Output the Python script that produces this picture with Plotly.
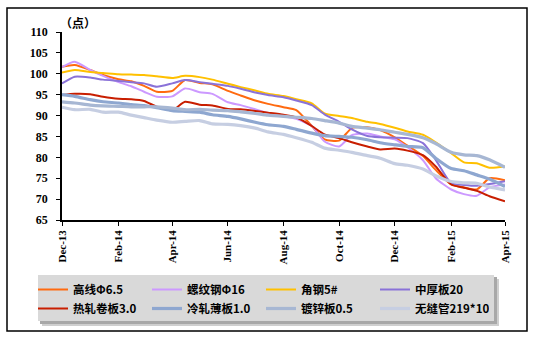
import plotly.graph_objects as go

dates = ["2013-12-01", "2013-12-15", "2014-01-01", "2014-01-15", "2014-02-01", "2014-02-15",
         "2014-03-01", "2014-03-15", "2014-04-01", "2014-04-15", "2014-05-01", "2014-05-15",
         "2014-06-01", "2014-06-15", "2014-07-01", "2014-07-15", "2014-08-01", "2014-08-15",
         "2014-09-01", "2014-09-15", "2014-10-01", "2014-10-15", "2014-11-01", "2014-11-15",
         "2014-12-01", "2014-12-15", "2015-01-01", "2015-01-15", "2015-02-01", "2015-02-15",
         "2015-03-01", "2015-03-15", "2015-04-01"]

gaoxian = [101.7, 102.1, 100.9, 99.7, 98.7, 98.2, 97.1, 95.7, 95.9, 98.5, 97.8, 97.5,
           95.9, 94.8, 93.6, 92.8, 92.0, 91.3, 87.5, 84.3, 84.0, 87.0, 87.2, 86.5,
           84.8, 82.8, 80.3, 77.0, 73.5, 72.8, 72.3, 75.0, 74.5]
luowen = [101.6, 102.9, 100.9, 99.5, 98.0, 97.0, 95.7, 94.5, 94.6, 96.5, 95.6, 95.2,
          93.2, 92.5, 91.5, 90.6, 89.8, 89.2, 87.5, 83.8, 82.6, 85.3, 85.7, 85.0,
          84.3, 82.4, 79.3, 75.0, 72.3, 71.2, 70.8, 72.8, 73.5]
jiaogang = [100.3, 100.9, 100.4, 100.2, 99.9, 99.8, 99.7, 99.4, 99.0, 99.5, 99.2, 98.6,
            97.6, 96.8, 96.0, 95.2, 94.7, 93.9, 92.9, 90.5, 89.9, 89.4, 88.5, 88.0,
            87.1, 86.2, 85.4, 83.6, 81.0, 78.8, 78.6, 77.5, 77.8]
zhonghou = [97.7, 99.3, 99.1, 98.6, 98.3, 98.0, 97.7, 96.9, 97.7, 98.5, 98.0, 97.6,
            97.1, 96.4, 95.5, 94.9, 94.4, 93.6, 92.5, 90.3, 88.5, 86.7, 85.1, 84.8,
            84.7, 84.6, 83.4, 79.4, 73.8, 73.4, 73.2, 73.6, 74.3]
rezha = [94.9, 95.2, 95.1, 94.5, 94.0, 93.9, 93.5, 92.1, 91.3, 93.3, 92.6, 92.4,
         91.6, 91.5, 91.1, 90.7, 90.2, 89.6, 87.5, 85.5, 84.6, 83.6, 82.6, 81.9,
         82.1, 81.6, 80.5, 77.8, 73.5, 72.7, 72.0, 70.7, 69.5]
lengzha = [95.0, 94.6, 93.8, 93.3, 93.0, 92.6, 92.4, 91.9, 91.2, 91.0, 90.8, 90.2,
           89.8, 89.2, 88.4, 87.8, 87.4, 86.7, 85.8, 85.2, 85.0, 84.8, 84.2, 83.5,
           83.0, 82.6, 82.3, 79.8, 77.3, 76.8, 75.8, 74.8, 73.0]
duxin = [93.3, 93.0, 92.5, 92.3, 92.2, 92.1, 92.1, 92.1, 91.8, 91.4, 91.5, 91.3,
         91.2, 90.9, 90.5, 90.1, 89.8, 89.6, 89.3, 88.8, 88.2, 87.4, 87.0, 86.6,
         86.0, 85.5, 84.7, 83.3, 81.2, 80.6, 80.4, 79.4, 77.6]
wufeng = [92.0, 91.4, 91.5, 90.8, 90.8, 90.1, 89.5, 88.9, 88.4, 88.6, 88.8, 88.0,
          87.9, 87.6, 87.0, 86.1, 85.5, 84.7, 83.6, 82.2, 81.7, 81.2, 80.4, 79.8,
          78.5, 78.1, 77.2, 75.6, 74.2, 73.9, 73.8, 72.9, 72.2]

names = ["高线Φ6.5", "螺纹钢Φ16", "角钢5#", "中厚板20",
         "热轧卷板3.0", "冷轧薄板1.0", "镀锌板0.5", "无缝管219*10"]
series = [gaoxian, luowen, jiaogang, zhonghou, rezha, lengzha, duxin, wufeng]
colors = ["#FF6A10", "#CC99FF", "#FFC000", "#8A72D8",
          "#C81E00", "#8EA7D0", "#A7B7D3", "#C6CEE2"]
widths = [2, 2, 2, 2, 2, 3.2, 3.2, 3.2]

tick_vals = ["2013-12-01", "2014-02-01", "2014-04-01", "2014-06-01", "2014-08-01",
             "2014-10-01", "2014-12-01", "2015-02-01", "2015-04-01"]
tick_text = ["Dec-13", "Feb-14", "Apr-14", "Jun-14", "Aug-14", "Oct-14", "Dec-14", "Feb-15", "Apr-15"]

fig = go.Figure()
for n, s, c, w in zip(names, series, colors, widths):
    fig.add_trace(go.Scatter(x=dates, y=s, name=n, mode="lines",
                             line=dict(color=c, width=w, shape="spline", smoothing=0.6)))

W, H = 443, 188
L, T = 62, 32
def px(x):
    return (x - L) / W
def py(y):
    return (T + H - y) / H

fig.update_layout(
    width=536, height=339,
    margin=dict(l=L, r=536 - L - W, t=T, b=339 - T - H),
    paper_bgcolor="white", plot_bgcolor="white",
    font=dict(family="Liberation Serif", size=11, color="black"),
    showlegend=True,
    legend=dict(orientation="h", x=px(33), y=py(275), xanchor="left", yanchor="top",
                bgcolor="rgba(0,0,0,0)", borderwidth=0,
                entrywidth=69, entrywidthmode="pixels",
                font=dict(family="Noto Sans CJK SC", size=11.5, color="black", weight="bold"),
                itemwidth=30, tracegroupgap=0),
    xaxis=dict(type="date", range=["2013-12-01", "2015-04-01"],
               tickmode="array", tickvals=tick_vals, ticktext=tick_text,
               tickangle=-90, ticks="outside", ticklen=4, tickcolor="black",
               showline=True, linecolor="black", linewidth=1.5, showgrid=False,
               zeroline=False,
               tickfont=dict(family="Liberation Serif", size=11, weight="bold")),
    yaxis=dict(range=[65, 110], dtick=5, tick0=65, ticks="outside", ticklen=4,
               tickcolor="black", showline=True, linecolor="black", linewidth=1.5,
               showgrid=False, zeroline=False, ticklabelstandoff=6,
               tickfont=dict(family="Liberation Serif", size=12, weight="bold")),
    shapes=[
        dict(type="rect", xref="paper", yref="paper",
             x0=px(7), x1=px(527), y0=py(331), y1=py(8),
             line=dict(color="black", width=1.5), fillcolor="rgba(0,0,0,0)", layer="below"),
        dict(type="rect", xref="paper", yref="paper",
             x0=px(42), x1=px(499), y0=py(326), y1=py(279),
             line=dict(width=0), fillcolor="#CFCFCF", layer="below"),
        dict(type="rect", xref="paper", yref="paper",
             x0=px(40), x1=px(497), y0=py(324), y1=py(277),
             line=dict(width=0), fillcolor="#A8A8A8", layer="below"),
        dict(type="rect", xref="paper", yref="paper",
             x0=px(38), x1=px(494), y0=py(321), y1=py(275),
             line=dict(width=0), fillcolor="#D9D9D9", layer="below"),
    ],
    annotations=[
        dict(text="（点）", xref="paper", yref="paper", x=px(58), y=py(22),
             xanchor="left", yanchor="middle", showarrow=False,
             font=dict(family="Noto Sans CJK SC", size=12, weight="bold")),
    ],
)

fig.write_html("out.html")
